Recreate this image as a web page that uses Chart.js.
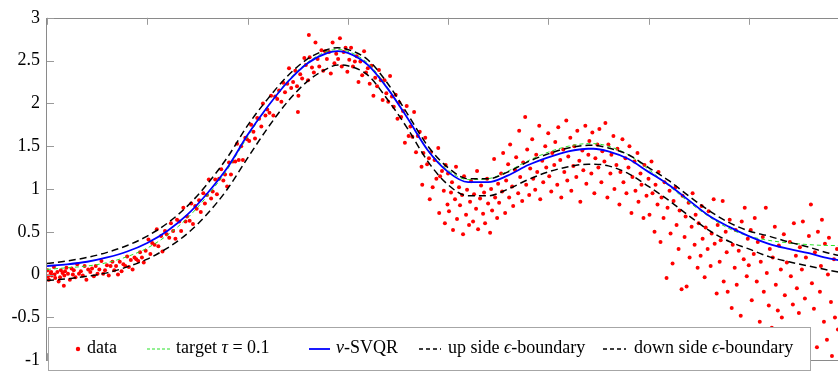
<!DOCTYPE html>
<html><head><meta charset="utf-8">
<script src="https://cdn.jsdelivr.net/npm/chart.js@4.4.1/dist/chart.umd.min.js"></script>
<style>html,body{margin:0;padding:0;overflow:hidden;background:#fff;width:838px;height:378px}
canvas{display:block}</style></head><body>
<canvas id="c" width="860" height="378"></canvas>
<script>
const xTicks = [-4,-3,-2,-1,0,1,2,3,4];
const xTickLabels = ['-4','-3','-2','-1','0','1','2','3','4'];
const yTicks = [-1,-0.5,0,0.5,1,1.5,2,2.5,3];
const yTickLabels = ['-1','-0.5','0','0.5','1','1.5','2','2.5','3'];
const seriesNames = ['data','target τ = 0.1','ν-SVQR','up side ϵ-boundary','down side ϵ-boundary'];

const dataPoints = [
[-3.995,0.05],[-3.981,-0.06],[-3.964,0.02],[-3.952,-0.01],[-3.931,0.09],[-3.918,-0.04],[-3.897,0.03],[-3.884,-0.08],[-3.862,0.05],[-3.845,0.02],[-3.827,-0.01],[-3.806,0.08],[-3.791,0.01],[-3.772,-0.06],[-3.755,0.07],[-3.733,0.05],[-3.716,-0.03],[-3.698,0.12],[-3.681,0.01],[-3.662,0.04],[-3.643,-0.01],[-3.625,0.10],[-3.607,-0.06],[-3.589,0.06],[-3.568,0.03],[-3.551,0.07],[-3.533,-0.02],[-3.514,0.10],[-3.496,0.01],[-3.478,0.06],[-3.457,0.16],[-3.439,0.01],[-3.421,0.05],[-3.402,0.11],[-3.384,-0.01],[-3.366,0.10],[-3.347,0.15],[-3.329,0.05],[-3.311,0.10],[-3.292,0.00],[-3.274,0.15],[-3.256,0.04],[-3.238,0.12],[-3.219,0.10],[-3.201,0.21],[-3.183,0.09],[-3.164,0.17],[-3.146,0.06],[-3.127,0.20],[-3.109,0.18],[-3.090,0.16],[-3.072,0.26],[-3.053,0.20],[-3.035,0.14],[-3.016,0.28],
[-3.990,-0.02],[-3.958,0.03],[-3.925,0.00],[-3.870,-0.03],[-3.820,0.04],[-3.742,0.00],[-3.832,-0.13],
[-2.988,0.41],[-2.969,0.24],[-2.951,0.37],[-2.927,0.35],[-2.905,0.53],[-2.889,0.33],[-2.862,0.45],[-2.848,0.27],[-2.823,0.51],[-2.806,0.47],[-2.781,0.43],[-2.764,0.60],[-2.742,0.51],[-2.719,0.42],[-2.703,0.64],[-2.681,0.62],[-2.662,0.51],[-2.640,0.78],[-2.618,0.62],[-2.603,0.68],[-2.577,0.63],[-2.561,0.83],[-2.544,0.59],[-2.522,0.80],[-2.507,0.77],[-2.483,0.87],[-2.466,0.73],[-2.441,0.95],[-2.425,0.83],[-2.404,0.93],[-2.386,1.11],[-2.363,0.89],[-2.347,0.97],[-2.322,1.11],[-2.305,0.94],[-2.283,1.12],[-2.262,1.23],[-2.241,1.10],[-2.224,1.17],[-2.203,1.03],
[-2.184,1.31],[-2.165,1.17],[-2.146,1.32],[-2.122,1.32],[-2.104,1.53],[-2.087,1.34],[-2.063,1.50],[-2.046,1.34],[-2.022,1.60],[-2.005,1.58],[-1.983,1.56],[-1.964,1.75],[-1.941,1.67],[-1.925,1.59],[-1.903,1.83],[-1.884,1.82],[-1.862,1.73],[-1.846,2.00],[-1.821,1.86],[-1.803,1.93],[-1.781,1.89],[-1.765,2.09],[-1.742,1.86],[-1.724,2.08],[-1.703,2.05],[-1.685,2.15],[-1.662,2.02],[-1.644,2.24],[-1.626,2.13],[-1.603,2.23],[-1.586,2.41],[-1.564,2.18],[-1.545,2.25],[-1.523,2.38],[-1.506,2.20],[-1.497,1.90],
[-1.492,2.09],[-1.474,2.34],[-1.455,2.29],[-1.433,2.53],[-1.418,2.45],[-1.396,2.27],[-1.380,2.54],[-1.388,2.80],[-1.357,2.42],[-1.338,2.36],[-1.322,2.71],[-1.301,2.52],[-1.284,2.43],[-1.262,2.62],[-1.245,2.38],[-1.226,2.61],[-1.208,2.52],[-1.187,2.60],[-1.169,2.35],[-1.151,2.71],[-1.133,2.47],[-1.115,2.58],[-1.096,2.52],[-1.078,2.76],[-1.060,2.43],[-1.041,2.60],[-1.022,2.65],[-1.004,2.37],[-0.985,2.51],[-0.967,2.65],[-0.948,2.43],[-0.929,2.49],[-0.911,2.55],[-0.893,2.25],[-0.874,2.49],[-0.856,2.33],[-0.837,2.61],[-0.818,2.36],[-0.800,2.41],[-0.781,2.23],[-0.763,2.44],
[-0.744,2.09],[-0.726,2.30],[-0.707,2.20],[-0.689,2.39],[-0.670,2.27],[-0.652,2.04],[-0.633,2.27],[-0.615,2.12],[-0.596,2.02],[-0.578,2.32],[-0.559,2.08],[-0.541,1.96],[-0.522,2.10],[-0.504,1.82],
[-0.486,2.01],[-0.467,1.84],[-0.449,1.91],[-0.430,1.54],[-0.412,1.97],[-0.393,1.62],[-0.375,1.73],[-0.356,1.61],[-0.338,1.90],[-0.319,1.43],[-0.301,1.62],[-0.282,1.67],[-0.264,1.26],[-0.245,1.42],[-0.227,1.60],[-0.208,1.29],[-0.190,1.36],[-0.171,1.43],[-0.153,1.02],[-0.134,1.34],[-0.116,1.12],[-0.097,1.48],[-0.079,1.15],[-0.060,1.21],[-0.042,0.98],[-0.023,1.28],[-0.005,0.82],
[-0.088,0.72],[-0.031,0.60],[-0.182,0.88],[-0.257,1.05],
[0.00,1.18],[0.01,0.74],[0.03,0.96],[0.04,1.08],[0.05,0.52],[0.07,0.88],[0.08,1.26],[0.09,0.65],[0.11,1.02],[0.12,0.81],[0.14,0.93],[0.15,0.47],[0.16,1.15],[0.18,0.70],[0.19,0.99],[0.21,0.58],[0.22,0.85],[0.23,1.09],[0.25,0.62],[0.26,0.94],[0.28,0.77],[0.29,1.21],[0.30,0.53],[0.32,0.89],[0.33,1.04],[0.35,0.71],[0.36,0.96],[0.37,0.60],[0.39,1.12],[0.40,0.83],[0.42,0.49],[0.43,1.00],[0.44,0.75],[0.46,1.35],[0.47,0.90],[0.49,0.66],[0.50,1.06],
[0.51,0.84],[0.53,1.18],[0.54,0.97],[0.55,1.42],[0.57,0.72],[0.58,1.10],[0.60,1.29],[0.61,0.90],[0.62,1.52],[0.64,1.03],[0.65,0.80],[0.67,1.22],[0.68,1.37],[0.70,0.95],[0.71,1.68],[0.72,1.14],[0.74,0.86],[0.75,1.31],[0.77,1.84],[0.78,1.05],[0.79,1.46],[0.81,0.93],[0.82,1.24],[0.84,1.58],[0.85,1.12],[0.87,0.99],[0.88,1.40],[0.89,1.20],[0.91,1.74],[0.92,0.88],[0.94,1.33],[0.95,1.08],[0.97,1.50],[0.98,1.25],
[1.00,1.65],[1.01,1.15],[1.03,0.97],[1.04,1.42],[1.06,1.28],[1.07,1.55],[1.09,1.05],[1.10,1.72],[1.12,1.34],[1.13,0.90],[1.15,1.46],[1.16,1.20],[1.18,1.80],[1.19,1.10],[1.20,1.38],[1.22,1.60],[1.23,0.98],[1.25,1.27],[1.26,1.50],[1.28,1.14],[1.29,1.68],[1.31,1.33],[1.32,0.85],[1.34,1.45],[1.35,1.22],[1.37,1.74],[1.38,1.06],[1.40,1.40],[1.41,1.56],[1.43,1.18],[1.44,1.66],[1.46,0.95],[1.47,1.36],[1.49,1.52],
[1.50,1.25],[1.51,1.70],[1.53,1.08],[1.54,1.44],[1.56,1.32],[1.57,1.77],[1.59,0.90],[1.60,1.52],[1.62,1.18],[1.63,1.40],[1.65,1.62],[1.66,1.00],[1.68,1.28],[1.69,1.47],[1.71,0.82],[1.72,1.20],[1.74,1.58],[1.75,1.08],[1.77,1.36],[1.78,0.95],[1.80,1.25],[1.81,1.50],[1.83,0.72],[1.84,1.14],[1.86,1.32],[1.87,0.98],[1.89,1.42],[1.90,0.85],[1.92,1.18],[1.93,1.05],[1.95,0.66],[1.96,1.28],[1.98,0.92],
[2.00,1.12],[2.01,0.70],[2.03,1.32],[2.04,0.95],[2.06,0.50],[2.07,1.05],[2.09,0.82],[2.10,1.20],[2.12,0.38],[2.13,0.90],[2.15,0.66],[2.16,1.08],[2.18,-0.04],[2.19,0.78],[2.21,0.98],[2.22,0.48],[2.24,0.13],[2.25,0.86],[2.27,1.02],[2.28,0.58],[2.30,0.30],[2.31,0.75],[2.33,-0.17],[2.34,0.92],[2.36,0.44],[2.37,0.68],[2.38,-0.14],[2.40,0.84],[2.41,0.20],[2.43,0.56],[2.44,0.95],[2.46,0.35],[2.47,0.70],[2.49,0.08],
[2.50,0.60],[2.52,0.22],[2.53,0.80],[2.54,0.42],[2.56,-0.03],[2.57,0.55],[2.59,0.30],[2.60,0.74],[2.62,0.10],[2.63,0.48],[2.65,0.88],[2.66,0.36],[2.68,-0.22],[2.69,0.58],[2.71,0.15],[2.72,0.40],[2.74,0.86],[2.75,-0.08],[2.77,0.50],[2.78,0.26],[2.79,-0.20],[2.81,0.64],[2.83,-0.39],[2.84,0.35],[2.86,0.08],[2.87,0.52],[2.88,-0.12],[2.90,0.28],[2.92,-0.48],[2.93,0.62],[2.95,0.18],[2.96,0.78],[2.98,-0.02],[2.99,0.42],
[3.00,0.11],[3.02,0.52],[3.03,-0.30],[3.05,0.24],[3.06,0.66],[3.08,-0.08],[3.09,0.38],[3.11,-0.55],[3.12,0.15],[3.14,0.44],[3.15,-0.20],[3.17,0.78],[3.18,0.02],[3.20,-0.36],[3.21,0.30],[3.23,-0.62],[3.24,0.20],[3.26,0.56],[3.27,-0.12],[3.29,-0.42],[3.30,0.34],[3.32,0.06],[3.33,-0.50],[3.35,0.47],[3.36,-0.24],[3.38,0.14],[3.39,-0.70],[3.41,0.38],[3.42,-0.02],[3.44,-0.35],[3.45,0.60],[3.47,0.22],[3.48,-0.16],
[3.50,-0.45],[3.51,0.32],[3.53,0.06],[3.54,0.62],[3.56,-0.28],[3.57,0.20],[3.59,-0.68],[3.60,0.45],[3.62,0.82],[3.63,-0.10],[3.65,-0.40],[3.66,0.26],[3.68,-0.85],[3.69,0.50],[3.71,-0.20],[3.72,0.10],[3.73,0.64],[3.75,-0.55],[3.76,0.36],[3.78,-0.76],[3.79,0.00],[3.80,0.43],[3.82,-0.32],[3.83,-0.95],[3.85,0.18],[3.86,-0.50],[3.88,0.30],[3.89,-0.64]
];

const curveX  = [-4.0,-3.8,-3.6,-3.4,-3.2,-3.0,-2.8,-2.6,-2.4,-2.2,-2.0,-1.8,-1.6,-1.4,-1.2,-1.1,-1.0,-0.8,-0.6,-0.4,-0.2,0.0,0.2,0.4,0.6,0.8,1.0,1.2,1.4,1.45,1.6,1.8,2.0,2.2,2.4,2.6,2.8,3.0,3.2,3.4,3.6,3.8,4.0];
const targetY = [0.06,0.08,0.10,0.14,0.21,0.31,0.46,0.66,0.92,1.23,1.61,1.96,2.26,2.48,2.61,2.63,2.61,2.47,2.18,1.82,1.46,1.22,1.11,1.12,1.21,1.33,1.43,1.50,1.53,1.53,1.50,1.40,1.23,1.04,0.85,0.68,0.54,0.45,0.40,0.37,0.35,0.34,0.34];
const svqrY   = [0.10,0.12,0.15,0.20,0.27,0.37,0.51,0.70,0.95,1.25,1.63,1.96,2.25,2.47,2.59,2.61,2.59,2.45,2.17,1.82,1.45,1.20,1.08,1.08,1.16,1.28,1.37,1.44,1.47,1.47,1.44,1.35,1.20,1.05,0.87,0.69,0.56,0.45,0.36,0.30,0.25,0.19,0.15];
const upY     = [0.13,0.16,0.20,0.26,0.34,0.45,0.60,0.80,1.06,1.37,1.74,2.05,2.32,2.52,2.63,2.65,2.63,2.51,2.23,1.87,1.50,1.25,1.12,1.12,1.20,1.32,1.41,1.48,1.51,1.51,1.48,1.40,1.25,1.10,0.92,0.75,0.61,0.51,0.45,0.38,0.32,0.25,0.20];
const downY   = [-0.07,-0.05,-0.02,0.02,0.09,0.18,0.31,0.48,0.71,1.00,1.36,1.71,2.02,2.26,2.41,2.45,2.44,2.33,2.04,1.70,1.32,1.05,0.92,0.92,1.00,1.11,1.20,1.26,1.29,1.29,1.27,1.18,1.03,0.87,0.69,0.52,0.39,0.30,0.21,0.15,0.10,0.05,0.01];

const FONT = '"Liberation Serif", "Times New Roman", serif';
const toXY = ys => curveX.map((x, i) => ({x, y: ys[i]}));

const boxPlugin = {
  id: 'axesBox',
  afterDatasetsDraw(chart) {
    const {ctx, chartArea: a, scales: {x, y}} = chart;
    ctx.save();
    ctx.strokeStyle = '#8a8a8a'; ctx.lineWidth = 1;
    ctx.strokeRect(Math.round(a.left) - 0.5, Math.round(a.top) + 0.5, Math.round(a.right - a.left), Math.round(a.bottom - a.top));
    ctx.strokeStyle = '#9a9a9a';
    ctx.beginPath();
    xTicks.forEach(v => {
      const px = Math.round(x.getPixelForValue(v)) + 0.5;
      ctx.moveTo(px, a.top); ctx.lineTo(px, a.top + 7);
      ctx.moveTo(px, a.bottom); ctx.lineTo(px, a.bottom - 7);
    });
    yTicks.forEach(v => {
      const py = Math.round(y.getPixelForValue(v)) + 0.5;
      ctx.moveTo(a.left, py); ctx.lineTo(a.left + 7, py);
      ctx.moveTo(a.right, py); ctx.lineTo(a.right - 7, py);
    });
    ctx.stroke();
    ctx.restore();
  }
};

function drawRich(ctx, str, x, y) {
  const italic = 'τνϵ';
  let cx = x;
  for (const ch of str) {
    ctx.font = (italic.includes(ch) ? 'italic ' : '') + '18px ' + FONT;
    ctx.fillText(ch, cx, y);
    cx += ctx.measureText(ch).width;
  }
}

const legendPlugin = {
  id: 'boxLegend',
  afterDraw(chart, args, opts) {
    const ctx = chart.ctx;
    const b = opts.box;
    ctx.save();
    ctx.fillStyle = '#ffffff';
    ctx.fillRect(b[0], b[1], b[2], b[3]);
    ctx.strokeStyle = '#a6a6a6'; ctx.lineWidth = 1;
    ctx.strokeRect(b[0] + 0.5, b[1] + 0.5, b[2], b[3]);
    const cy = opts.symY;
    chart.data.datasets.forEach((ds, i) => {
      const it = opts.items[i];
      if (ds.showLine === false) {
        ctx.fillStyle = ds.backgroundColor;
        ctx.beginPath(); ctx.arc(it.s0, cy, 2.2, 0, Math.PI * 2); ctx.fill();
      } else {
        ctx.strokeStyle = ds.borderColor;
        ctx.lineWidth = ds.borderWidth;
        ctx.setLineDash(it.dash || []);
        ctx.beginPath(); ctx.moveTo(it.s0, cy); ctx.lineTo(it.s1, cy); ctx.stroke();
        ctx.setLineDash([]);
      }
      ctx.fillStyle = '#000';
      ctx.textBaseline = 'alphabetic';
      drawRich(ctx, ds.label, it.t, opts.textY);
    });
    ctx.restore();
  }
};

new Chart(document.getElementById('c'), {
  type: 'scatter',
  data: {
    datasets: [
      { label: seriesNames[0], data: dataPoints.map(p => ({x: p[0], y: p[1]})), showLine: false,
        backgroundColor: 'rgb(255,0,0)', borderWidth: 0, pointRadius: 2, order: 5 },
      { label: seriesNames[1], type: 'line', data: toXY(targetY), borderColor: 'rgb(40,225,40)', borderWidth: 1,
        borderDash: [4, 3], pointRadius: 0, cubicInterpolationMode: 'monotone', fill: false, order: 4 },
      { label: seriesNames[2], type: 'line', data: toXY(svqrY), borderColor: 'rgb(0,0,255)', borderWidth: 1.8,
        pointRadius: 0, cubicInterpolationMode: 'monotone', fill: false, order: 3 },
      { label: seriesNames[3], type: 'line', data: toXY(upY), borderColor: '#000', borderWidth: 1.5,
        borderDash: [7, 4], pointRadius: 0, cubicInterpolationMode: 'monotone', fill: false, order: 2 },
      { label: seriesNames[4], type: 'line', data: toXY(downY), borderColor: '#000', borderWidth: 1.5,
        borderDash: [7, 4], pointRadius: 0, cubicInterpolationMode: 'monotone', fill: false, order: 1 }
    ]
  },
  options: {
    responsive: false,
    animation: false,
    devicePixelRatio: 1,
    layout: { padding: { top: 14, right: 11, bottom: 0, left: 0 } },
    plugins: {
      legend: { display: false },
      tooltip: { enabled: false },
      boxLegend: {
        box: [48, 327, 762, 43], symY: 349, textY: 353,
        items: [
          { s0: 78, t: 87 },
          { s0: 147, s1: 172, t: 176, dash: [3, 2] },
          { s0: 309, s1: 330, t: 336 },
          { s0: 419, s1: 441, t: 448, dash: [4, 3] },
          { s0: 603, s1: 626, t: 634, dash: [4, 3] }
        ]
      }
    },
    scales: {
      x: {
        type: 'linear', min: -4, max: 4,
        afterFit: s => { s.height = 7; },
        grid: { display: false, drawTicks: false },
        border: { display: false },
        ticks: { stepSize: 1, padding: 0, color: '#000', font: { family: FONT, size: 18 }, maxRotation: 0,
          callback: v => { const i = xTicks.indexOf(v); return i >= 0 ? xTickLabels[i] : ''; } }
      },
      y: {
        type: 'linear', min: -1, max: 3,
        afterFit: s => { s.width = 47; },
        grid: { display: false, drawTicks: false },
        border: { display: false },
        ticks: { stepSize: 0.5, padding: 7, color: '#000', font: { family: FONT, size: 18 },
          callback: v => { const i = yTicks.indexOf(v); return i >= 0 ? yTickLabels[i] : ''; } }
      }
    }
  },
  plugins: [boxPlugin, legendPlugin]
});
</script>
</body></html>
